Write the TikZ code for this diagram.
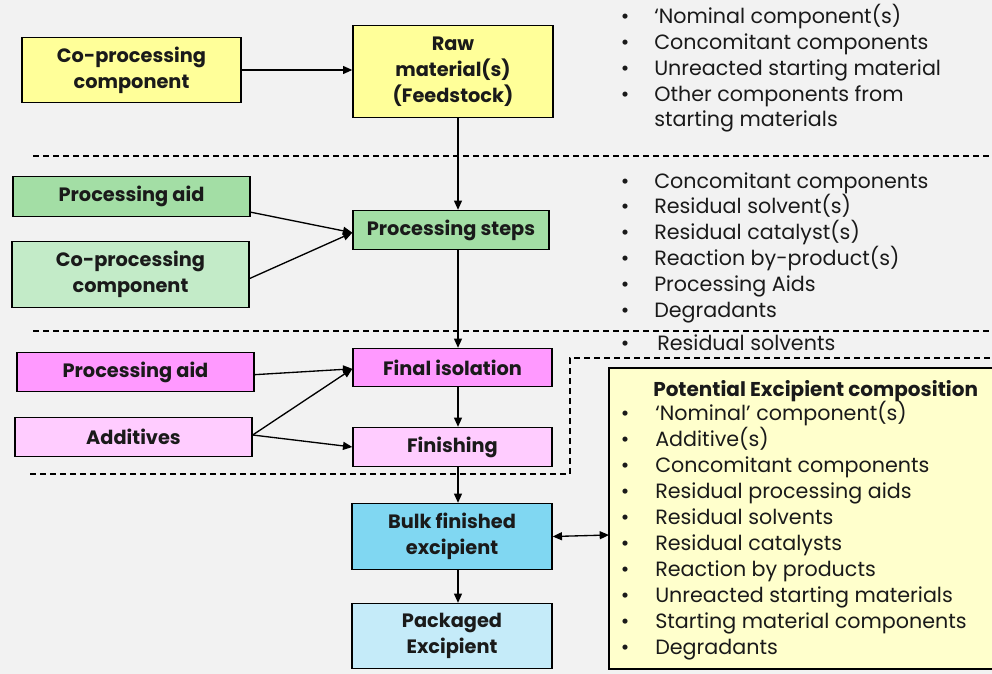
\documentclass[tikz,border=0pt]{standalone}
\usepackage{fontspec}
\setmainfont{Poppins}
\usetikzlibrary{arrows.meta}
\definecolor{bg}{HTML}{F2F2F2}
\definecolor{yel}{HTML}{FFFF99}
\definecolor{grn}{HTML}{A3DEA5}
\definecolor{lgrn}{HTML}{C3EBC8}
\definecolor{mag}{HTML}{FF99FF}
\definecolor{lmag}{HTML}{FFCCFF}
\definecolor{blu}{HTML}{80D7F2}
\definecolor{lblu}{HTML}{C5EBF9}
\definecolor{cream}{HTML}{FFFFCC}
\definecolor{ink}{HTML}{1A1A1A}
\begin{document}
\begin{tikzpicture}[x=0.75pt,y=-0.75pt,
  box/.style={draw=black,line width=1pt,inner sep=0pt,align=center,text=ink,
    font=\bfseries\fontsize{14.5}{19.5}\selectfont},
  arr/.style={line width=1pt,-{Triangle[length=7pt,width=6pt]}},
  darr/.style={line width=1pt,{Triangle[length=7pt,width=6pt]}-{Triangle[length=7pt,width=6pt]}},
  sep/.style={line width=0.9pt,dash pattern=on 4.5pt off 3pt},
  li/.style={anchor=base west,inner sep=0pt,text=ink,font=\fontsize{15.5}{18}\selectfont},
  bul/.style={anchor=base,inner sep=0pt,text=ink,font=\fontsize{15.5}{18}\selectfont},
  ttl/.style={anchor=base west,inner sep=0pt,text=ink,font=\bfseries\fontsize{15}{18}\selectfont}]
\path[use as bounding box,fill=bg] (0,0) rectangle (992,674);

% separators
\draw[sep] (33,156) -- (992,156);
\draw[sep] (33,331) -- (992,331);
\draw[sep] (30,474) -- (570,474) -- (570,358) -- (992,358);

% composition box
\draw[line width=1pt,fill=cream] (609,368) rectangle (994,669);

% boxes (centre, size in px)
\node[box,fill=yel,minimum width=164.25pt,minimum height=48.75pt] (cp1) at (131.5,70) {Co-processing\\component};
\node[box,fill=yel,minimum width=150pt,minimum height=69pt] (raw) at (453,71.5) {Raw\\material(s)\\(Feedstock)};
\node[box,fill=grn,minimum width=177.75pt,minimum height=30pt] (pa1) at (131.5,196.5) {Processing aid};
\node[box,fill=lgrn,minimum width=177.75pt,minimum height=49.5pt] (cp2) at (130.5,274.5) {Co-processing\\component};
\node[box,fill=grn,minimum width=147pt,minimum height=29.25pt] (ps) at (451,230) {Processing steps};
\node[box,fill=mag,minimum width=177.75pt,minimum height=29.25pt] (pa2) at (135.5,372) {Processing aid};
\node[box,fill=lmag,minimum width=177.75pt,minimum height=29.25pt] (add) at (133.5,437) {Additives};
\node[box,fill=mag,minimum width=149.25pt,minimum height=28.5pt] (fi) at (452.5,367.5) {Final isolation};
\node[box,fill=lmag,minimum width=149.25pt,minimum height=29.25pt] (fin) at (452.5,447) {Finishing};
\node[box,fill=blu,minimum width=150pt,minimum height=49.5pt] (bulk) at (452,536.5) {Bulk finished\\excipient};
\node[box,fill=lblu,minimum width=150pt,minimum height=48.75pt] (pack) at (452,636) {Packaged\\Excipient};
\coordinate (comp) at (609,535);
\coordinate (spine) at (458,0);

% connectors
\draw[arr] (cp1.east) -- (cp1.east -| raw.west);
\draw[arr] (spine |- raw.south) -- (spine |- ps.north);
\draw[arr] ([yshift=3.75pt]pa1.south east) -- ([yshift=-2pt]ps.west);
\draw[arr] ([yshift=-3pt]cp2.east) -- ([yshift=-2pt]ps.west);
\draw[arr] (spine |- ps.south) -- (spine |- fi.north);
\draw[arr] ([yshift=-2pt]pa2.east) -- ([yshift=-1pt]fi.west);
\draw[arr] ([yshift=1.5pt]add.east) -- ([yshift=-1pt]fi.west);
\draw[arr] ([yshift=1.5pt]add.east) -- (fin.west);
\draw[arr] (spine |- fi.south) -- (spine |- fin.north);
\draw[arr] (spine |- fin.south) -- (spine |- bulk.north);
\draw[arr] (spine |- bulk.south) -- (spine |- pack.north);
\draw[darr] (bulk.east) -- (comp);

% lists (baselines)
\foreach \t [count=\i] in {{‘Nominal component(s)},{Concomitant components},{Unreacted starting material},{Other components from}}{
  \node[bul] (b1-\i) at (625,{24+(\i-1)*25.7}) {•};
  \node[li] (l1-\i) at (654,{24+(\i-1)*25.7}) {\t};
}
\node[li] (l1-5) at (654,127) {starting materials};

\foreach \t [count=\i] in {{Concomitant components},{Residual solvent(s)},{Residual catalyst(s)},{Reaction by-product(s)},{Processing Aids},{Degradants}}{
  \node[bul] (b2-\i) at (625,{188+(\i-1)*25.8}) {•};
  \node[li] (l2-\i) at (654,{188+(\i-1)*25.8}) {\t};
}
\node[bul] (b3) at (625,350) {•};
\node[li] (l3) at (657,350) {Residual solvents};

\node[ttl] (tt) at (653,396) {Potential Excipient composition};
\foreach \t [count=\i] in {{‘Nominal’ component(s)},{Additive(s)},{Concomitant components},{Residual processing aids},{Residual solvents},{Residual catalysts},{Reaction by products},{Unreacted starting materials},{Starting material components},{Degradants}}{
  \node[bul] (b4-\i) at (625,{420+(\i-1)*26.1}) {•};
  \node[li] (l4-\i) at (655,{420+(\i-1)*26.1}) {\t};
}
\end{tikzpicture}
\end{document}
